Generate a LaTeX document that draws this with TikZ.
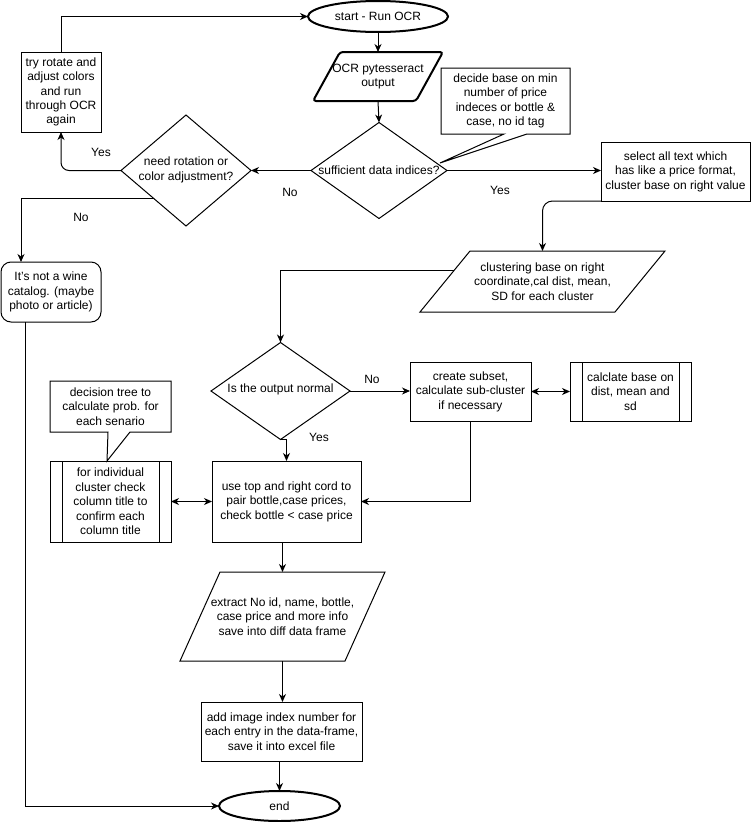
\documentclass[tikz,border=0pt]{standalone}
\usepackage{fontspec}
\setmainfont{Liberation Sans}
\usetikzlibrary{shapes.geometric,arrows.meta,calc}

\begin{document}
\begin{tikzpicture}[x=1pt,y=-1pt,
  every node/.style={font=\fontsize{12pt}{14.4pt}\selectfont, align=center, inner sep=0pt, outer sep=0pt},
  sz/.style 2 args={minimum width=#1pt, minimum height=#2pt},
  box/.style={draw, rectangle, fill=white, line width=1pt},
  ell/.style={draw, ellipse, fill=white},
  dia/.style={draw, diamond, fill=white, line width=1pt},
  ln/.style={line width=1pt},
  arr/.style={line width=1pt, -{Stealth[length=8pt,width=7pt,inset=2.5pt]}},
  darr/.style={line width=1pt, {Stealth[length=8pt,width=7pt,inset=2.5pt]}-{Stealth[length=8pt,width=7pt,inset=2.5pt]}},
  lbl/.style={font=\fontsize{12pt}{14.4pt}\selectfont}
]
\fill[white] (0,0) rectangle (751,822);
\useasboundingbox (0,0) rectangle (751,822);

% ---------- nodes ----------
\node[ell, line width=2pt, sz={140}{31}] (start) at (378,16.5) {start - Run OCR};

\node[sz={130}{49}] (ocr) at (378,76.5) {OCR pytesseract\\output};
\draw[line width=2pt, rounded corners=3pt] (ocr.south west) -- ([xshift=-27pt]ocr.south east) -- (ocr.north east) -- ([xshift=27pt]ocr.north west) -- cycle;

\node[dia, sz={136}{96}] (suff) at (379,170.5) {};
\node (suffT) at (379,170) {sufficient data indices?};

\node[sz={129}{66}] (dec) at (505.5,101) {decide base on min\\number of price\\indeces or bottle \&\\case, no id tag};
\coordinate (decTip) at (440,163);
\draw[ln] (dec.south west) -- (dec.north west) -- (dec.north east) -- (dec.south east) -- ([xshift=21.5pt]dec.south) -- (decTip) -- ([xshift=-1.5pt]dec.south) -- cycle;

\node[dia, sz={130}{111}] (need) at (186,170.5) {};
\node (needT) at (186,170) {need rotation or\\color adjustment?};

\node[box, sz={80}{80}] (try) at (61,92) {try rotate and\\adjust colors\\and run\\through OCR\\again};

\node[box, rounded corners=10pt, sz={100}{60}] (notwine) at (51,292) {It\char"27 s not a wine\\catalog. (maybe\\photo or article)};

\node[box, sz={149}{59}] (sel) at (675.5,171.5) {select all text which\\has like a price format,\\cluster base on right value};

\node[sz={245}{61}] (clust) at (542.5,281.5) {clustering base on right\\coordinate,cal dist, mean,\\SD for each cluster};
\draw[ln] (clust.south west) -- ([xshift=-50pt]clust.south east) -- (clust.north east) -- ([xshift=50pt]clust.north west) -- cycle;

\node[dia, sz={139}{97}] (isnorm) at (280.5,391) {};
\node (isnormT) at (280.5,389.5) {Is the output normal};

\node[box, sz={121}{59}] (create) at (470.5,391.5) {create subset,\\calculate sub-cluster\\if necessary};

\node[box, sz={121}{59}] (calc) at (630.5,391.5) {calclate base on\\dist, mean and\\sd};
\draw[ln] ([xshift=12pt]calc.north west) -- ([xshift=12pt]calc.south west);
\draw[ln] ([xshift=-12pt]calc.north east) -- ([xshift=-12pt]calc.south east);

\node[box, sz={149}{81}] (use) at (286.5,501.5) {use top and right cord to\\pair bottle,case prices,\\check bottle < case price};

\node[box, sz={121}{81}] (indiv) at (110.5,501.5) {for individual\\cluster check\\column title to\\confirm each\\column title};
\draw[ln] ([xshift=12pt]indiv.north west) -- ([xshift=12pt]indiv.south west);
\draw[ln] ([xshift=-12pt]indiv.north east) -- ([xshift=-12pt]indiv.south east);

\node[sz={121}{51}] (dtree) at (110.5,406.5) {decision tree to\\calculate prob. for\\each senario};
\draw[ln] (dtree.south west) -- (dtree.north west) -- (dtree.north east) -- (dtree.south east) -- ([xshift=19.5pt]dtree.south) -- ([xshift=-3.5pt]indiv.north) -- ([xshift=-2.5pt]dtree.south) -- cycle;

\node[sz={205}{89}] (extract) at (282.5,616.5) {extract No id, name, bottle,\\case price and more info\\save into diff data frame};
\draw[ln] (extract.south west) -- ([xshift=-40pt]extract.south east) -- (extract.north east) -- ([xshift=40pt]extract.north west) -- cycle;

\node[box, sz={161}{59}] (add) at (281.5,731.5) {add image index number for\\each entry in the data-frame,\\save it into excel file};

\node[ell, line width=2pt, sz={121}{30}] (end) at (279.5,806) {end};

% ---------- connectors ----------
\draw[arr] (start.south) -- (ocr.north);
\draw[arr] (ocr.south) -- (suff.north);
\draw[arr] (suff.east) -- (suff.east -| sel.west);
\draw[arr] (suff.west) -- (need.east);
\draw[arr, rounded corners=8pt] (need.west) -| (try.south);
\draw[arr] (try.north) |- (start.west);
\draw[arr] (need.south west) -| ([xshift=-30pt]notwine.north);
\draw[arr] ([xshift=-26pt]notwine.south) |- (end.west);
\draw[arr, rounded corners=10pt] (sel.south west) -| (clust.north);
\draw[arr] ([xshift=34.4pt,yshift=11.5pt]clust.west) -| (isnorm.north);
\draw[arr] (isnorm.east) -- (isnorm.east -| create.west);
\draw[darr] (create.east) -- (calc.west);
\draw[arr] (isnorm.south) -| (use.north);
\draw[arr] (create.south) |- (use.east);
\draw[darr] (indiv.east) -- (use.west);
\draw[arr] (use.south -| extract.north) -- (extract.north);
\draw[arr] (extract.south) -- (extract.south |- add.north);
\draw[arr] (add.south -| end.north) -- (end.north);

% ---------- labels ----------
\node[lbl] (l1) at (500,190) {Yes};
\node[lbl] (l2) at (290,192) {No};
\node[lbl] (l3) at (101,152) {Yes};
\node[lbl] (l4) at (81,217) {No};
\node[lbl] (l5) at (372,379) {No};
\node[lbl] (l6) at (319,437) {Yes};
\end{tikzpicture}
\end{document}
